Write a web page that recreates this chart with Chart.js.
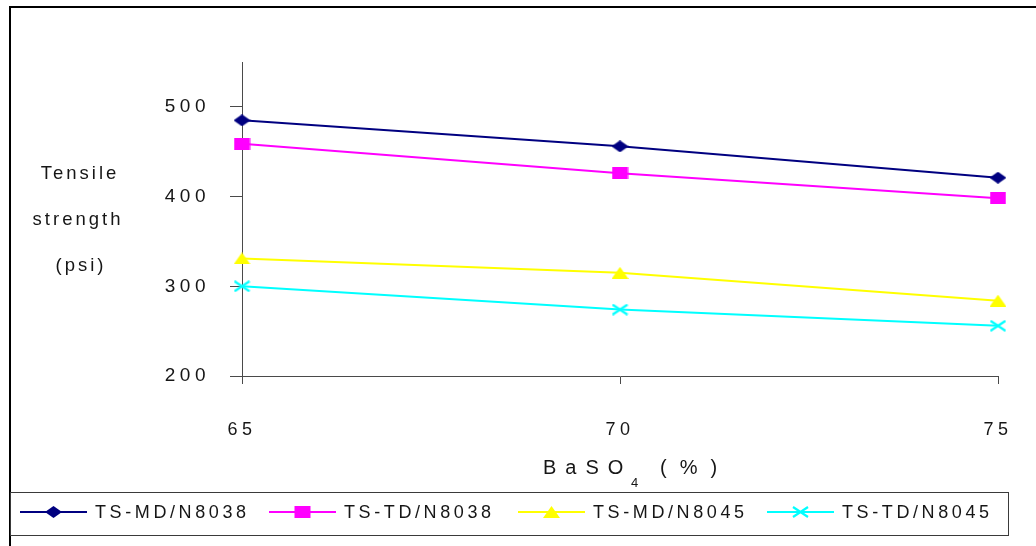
<!DOCTYPE html>
<html>
<head>
<meta charset="utf-8">
<title>Tensile strength vs BaSO4</title>
<script src="https://cdn.jsdelivr.net/npm/chart.js@4.4.1/dist/chart.umd.min.js"></script>
<style>
  html, body { margin: 0; padding: 0; background: #ffffff; }
  canvas { display: block; }
</style>
</head>
<body>
<canvas id="chart" width="1036" height="546"></canvas>
<script>
// BaSO4 loading (%) on the x axis
const categories = ['65', '70', '75'];

// Tensile strength (psi) per compound and direction
const tsMdN8038 = [485, 456, 421];
const tsTdN8038 = [459, 426, 398];
const tsMdN8045 = [331, 315, 284];
const tsTdN8045 = [300, 274, 256];

const yTickValues = [200, 300, 400, 500];
const seriesNames = ['TS-MD/N8038', 'TS-TD/N8038', 'TS-MD/N8045', 'TS-TD/N8045'];
const seriesColors = ['#000080', '#FF00FF', '#FFFF00', '#00FFFF'];
const seriesMarkers = ['diamond', 'square', 'triangle', 'cross'];

const FONT = "'Liberation Sans', Arial, Helvetica, sans-serif";
const TEXT = '#161616';
const AXIS = '#4a4a4a';

// Marker glyphs drawn once into small canvases and reused as point styles
function makeMarker(kind, color) {
  const w = 17, h = 12;
  const c = document.createElement('canvas');
  c.width = w; c.height = h;
  const g = c.getContext('2d');
  g.fillStyle = color;
  g.strokeStyle = color;
  if (kind === 'diamond') {
    g.beginPath();
    g.moveTo(0, h / 2); g.lineTo(w / 2, 0); g.lineTo(w, h / 2); g.lineTo(w / 2, h);
    g.closePath(); g.fill();
  } else if (kind === 'square') {
    g.fillRect(0.5, 0, w - 1, h);
  } else if (kind === 'triangle') {
    g.beginPath();
    g.moveTo(w / 2, 0); g.lineTo(w, h); g.lineTo(0, h);
    g.closePath(); g.fill();
  } else {
    g.lineWidth = 2.2;
    g.beginPath();
    g.moveTo(1, 1); g.lineTo(w - 1, h - 1);
    g.moveTo(w - 1, 1); g.lineTo(1, h - 1);
    g.stroke();
  }
  return c;
}

const seriesValues = [tsMdN8038, tsTdN8038, tsMdN8045, tsTdN8045];
const markerImages = seriesMarkers.map((m, i) => makeMarker(m, seriesColors[i]));

const datasets = seriesValues.map((vals, i) => ({
  label: seriesNames[i],
  data: vals,
  borderColor: seriesColors[i],
  backgroundColor: seriesColors[i],
  borderWidth: 2,
  tension: 0,
  fill: false,
  pointStyle: markerImages[i],
  pointRadius: 6,
  pointHoverRadius: 6
}));

function spacedText(ctx, text, x, y, font, spacing, align, baseline) {
  ctx.font = font;
  ctx.letterSpacing = spacing + 'px';
  ctx.textAlign = align || 'left';
  ctx.textBaseline = baseline || 'alphabetic';
  ctx.fillText(text, x, y);
}

const decorations = {
  id: 'decorations',
  beforeDraw(chart) {
    chart.ctx.letterSpacing = '4.5px';
  },
  afterDraw(chart) {
    const ctx = chart.ctx;
    ctx.save();

    // outer frame (top and left edges)
    ctx.strokeStyle = '#000';
    ctx.lineWidth = 2;
    ctx.beginPath();
    ctx.moveTo(10, 546); ctx.lineTo(10, 7); ctx.lineTo(1036, 7);
    ctx.stroke();

    ctx.fillStyle = TEXT;

    // y-axis title, three centred lines
    const yFont = '18.5px ' + FONT;
    spacedText(ctx, 'Tensile', 80, 179, yFont, 3, 'center');
    spacedText(ctx, 'strength', 78, 225, yFont, 3, 'center');
    spacedText(ctx, '(psi)', 81, 271, yFont, 3, 'center');

    // x-axis title BaSO4 (%) with subscript
    const xFont = '20px ' + FONT;
    spacedText(ctx, 'BaSO', 543, 474, xFont, 9, 'left');
    spacedText(ctx, '4', 631, 487, '13px ' + FONT, 0, 'left');
    spacedText(ctx, '(%)', 660, 474, xFont, 13, 'left');

    // legend box
    ctx.letterSpacing = '0px';
    ctx.strokeStyle = '#3a3a3a';
    ctx.lineWidth = 1;
    ctx.strokeRect(10.5, 492.5, 998, 43);

    const cy = 512;
    chart.data.datasets.forEach((ds, i) => {
      const x0 = 20 + i * 249;
      ctx.strokeStyle = ds.borderColor;
      ctx.lineWidth = 2;
      ctx.beginPath();
      ctx.moveTo(x0, cy); ctx.lineTo(x0 + 67, cy);
      ctx.stroke();
      const img = ds.pointStyle;
      ctx.drawImage(img, x0 + 33.5 - img.width / 2, cy - img.height / 2);
      ctx.fillStyle = TEXT;
      spacedText(ctx, ds.label, x0 + 75, cy + 1, '18px ' + FONT, 3.6, 'left', 'middle');
    });

    ctx.restore();
  }
};

Chart.defaults.font.family = FONT;
Chart.defaults.color = TEXT;

new Chart(document.getElementById('chart'), {
  type: 'line',
  data: { labels: categories, datasets },
  options: {
    responsive: false,
    animation: false,
    events: [],
    layout: { padding: { left: 0, top: 62, right: 38, bottom: 0 } },
    plugins: {
      legend: { display: false },
      tooltip: { enabled: false },
      title: { display: false }
    },
    scales: {
      x: {
        type: 'category',
        offset: false,
        grid: { display: true, drawOnChartArea: false, drawTicks: true, tickLength: 8, color: AXIS, tickColor: AXIS },
        border: { display: true, color: AXIS, width: 1 },
        ticks: { padding: 35, color: TEXT, font: { size: 18 } },
        afterFit(scale) {
          scale.height = 170;
          // the label gap is vertical only; keep it out of the side padding
          scale.paddingLeft = 0;
          scale.paddingRight = 0;
        }
      },
      y: {
        min: 200,
        max: 550,
        afterBuildTicks(scale) { scale.ticks = yTickValues.map(v => ({ value: v })); },
        grid: { display: true, drawOnChartArea: false, drawTicks: true, tickLength: 12, color: AXIS, tickColor: AXIS },
        border: { display: true, color: AXIS, width: 1 },
        ticks: { padding: 20, color: TEXT, font: { size: 19 } },
        afterFit(scale) { scale.width = 242; }
      }
    }
  },
  plugins: [decorations]
});
</script>
</body>
</html>
